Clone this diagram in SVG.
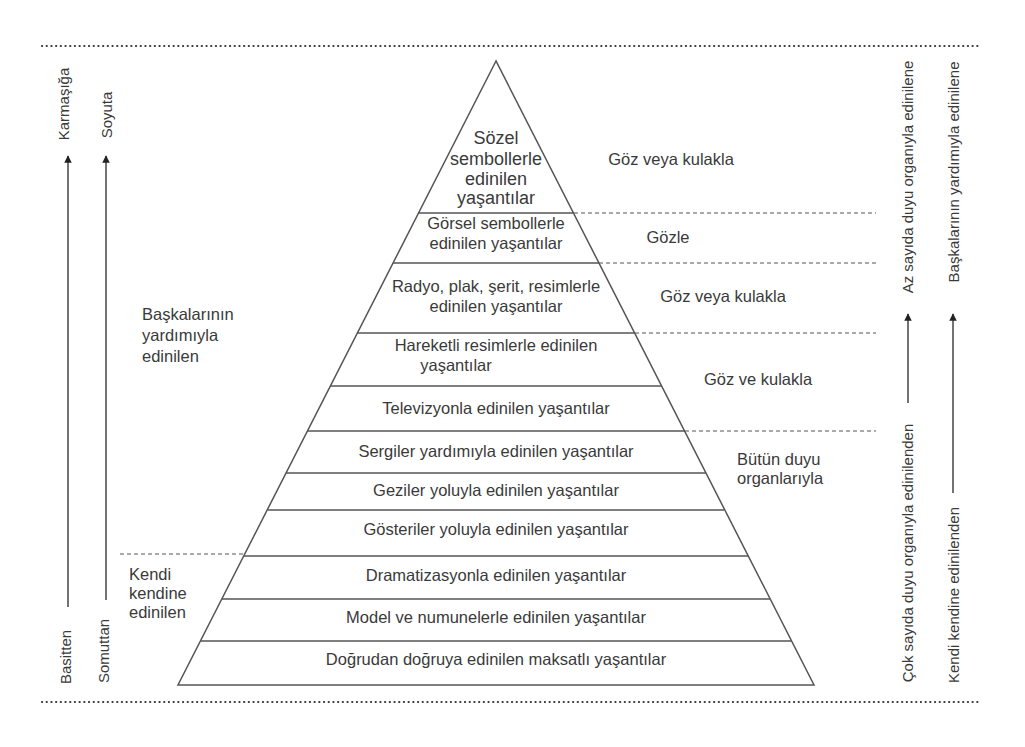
<svg xmlns="http://www.w3.org/2000/svg" width="1025" height="747" viewBox="0 0 1025 747">
<style>
text{font-family:"Liberation Sans",Arial,sans-serif;font-size:16.5px;fill:#3a3a3a}
.c{text-anchor:middle}
.big{font-size:18px}
.r{text-anchor:middle;dominant-baseline:central;font-size:15px}
.band{stroke:#555;stroke-width:1.5;fill:none}
.dash{stroke:#555;stroke-width:1.2;stroke-dasharray:4 3;fill:none}
.dot{stroke:#333;stroke-width:2.2;stroke-dasharray:0.1 4.6;stroke-linecap:round;fill:none}
.ax{stroke:#444;stroke-width:1.5;fill:none}
</style>
<defs>
<marker id="ah" viewBox="0 0 10 10" refX="9" refY="5" markerWidth="5" markerHeight="5" orient="auto" markerUnits="strokeWidth">
<path d="M0,0 L10,5 L0,10 z" fill="#222"/>
</marker>
</defs>
<rect width="1025" height="747" fill="#fff"/>

<g id="frame">
<line class="dot" x1="42" y1="46" x2="980" y2="46"/>
<line class="dot" x1="42" y1="702" x2="980" y2="702"/>
</g>

<g id="pyramid">
<polygon class="band" points="496,61 178,685 814,685"/>
</g>

<g id="connectors">
<line class="band" x1="418" y1="213" x2="574" y2="213"/>
<line class="band" x1="393" y1="263" x2="599" y2="263"/>
<line class="band" x1="357" y1="333" x2="635" y2="333"/>
<line class="band" x1="330" y1="386" x2="662" y2="386"/>
<line class="band" x1="307" y1="431" x2="685" y2="431"/>
<line class="band" x1="286" y1="473" x2="706" y2="473"/>
<line class="band" x1="268" y1="510" x2="724" y2="510"/>
<line class="band" x1="244" y1="556" x2="748" y2="556"/>
<line class="band" x1="222" y1="599" x2="770" y2="599"/>
<line class="band" x1="201" y1="641" x2="791" y2="641"/>
<line class="dash" x1="574" y1="213" x2="876" y2="213"/>
<line class="dash" x1="599" y1="263" x2="876" y2="263"/>
<line class="dash" x1="635" y1="333" x2="876" y2="333"/>
<line class="dash" x1="685" y1="431" x2="876" y2="431"/>
<line class="dash" x1="120" y1="554" x2="244" y2="554"/>
<line class="ax" x1="68" y1="607" x2="68" y2="156" marker-end="url(#ah)"/>
<line class="ax" x1="106" y1="600" x2="106" y2="156" marker-end="url(#ah)"/>
<line class="ax" x1="908" y1="403" x2="908" y2="314" marker-end="url(#ah)"/>
<line class="ax" x1="953" y1="493" x2="953" y2="314" marker-end="url(#ah)"/>
</g>

<g id="band-labels">
<text class="c big" x="496" y="144">Sözel</text>
<text class="c big" x="496" y="165">sembollerle</text>
<text class="c big" x="496" y="185">edinilen</text>
<text class="c big" x="496" y="204">yaşantılar</text>
<text class="c" x="496" y="229">Görsel sembollerle</text>
<text class="c" x="496" y="249">edinilen yaşantılar</text>
<text class="c" x="496" y="292">Radyo, plak, şerit, resimlerle</text>
<text class="c" x="496" y="312">edinilen yaşantılar</text>
<text class="c" x="496" y="351">Hareketli resimlerle edinilen</text>
<text class="c" x="456" y="371">yaşantılar</text>
<text class="c" x="496" y="414">Televizyonla edinilen yaşantılar</text>
<text class="c" x="496" y="457">Sergiler yardımıyla edinilen yaşantılar</text>
<text class="c" x="496" y="496">Geziler yoluyla edinilen yaşantılar</text>
<text class="c" x="496" y="535">Gösteriler yoluyla edinilen yaşantılar</text>
<text class="c" x="496" y="581">Dramatizasyonla edinilen yaşantılar</text>
<text class="c" x="496" y="623">Model ve numunelerle edinilen yaşantılar</text>
<text class="c" x="496" y="665">Doğrudan doğruya edinilen maksatlı yaşantılar</text>
</g>

<g id="sense-labels">
<text class="c" x="671" y="165">Göz veya kulakla</text>
<text class="c" x="668" y="243">Gözle</text>
<text class="c" x="723" y="302">Göz veya kulakla</text>
<text class="c" x="758" y="385">Göz ve kulakla</text>
<text x="737" y="465">Bütün duyu</text>
<text x="737" y="484">organlarıyla</text>
</g>

<g id="left-labels">
<text x="142" y="320">Başkalarının</text>
<text x="142" y="341">yardımıyla</text>
<text x="142" y="362">edinilen</text>
<text x="129" y="580">Kendi</text>
<text x="129" y="599">kendine</text>
<text x="129" y="618">edinilen</text>
</g>

<g id="axis-labels">
<text class="r" transform="translate(63,104) rotate(-90)">Karmaşığa</text>
<text class="r" transform="translate(106,115) rotate(-90)">Soyuta</text>
<text class="r" transform="translate(65,657) rotate(-90)">Basitten</text>
<text class="r" transform="translate(103,651) rotate(-90)">Somuttan</text>
<text class="r" transform="translate(907,177) rotate(-90)">Az sayıda duyu organıyla edinilene</text>
<text class="r" transform="translate(953,172) rotate(-90)">Başkalarının yardımıyla edinilene</text>
<text class="r" transform="translate(907,553) rotate(-90)">Çok sayıda duyu organıyla edinilenden</text>
<text class="r" transform="translate(953,595) rotate(-90)">Kendi kendine edinilenden</text>
</g>
</svg>
